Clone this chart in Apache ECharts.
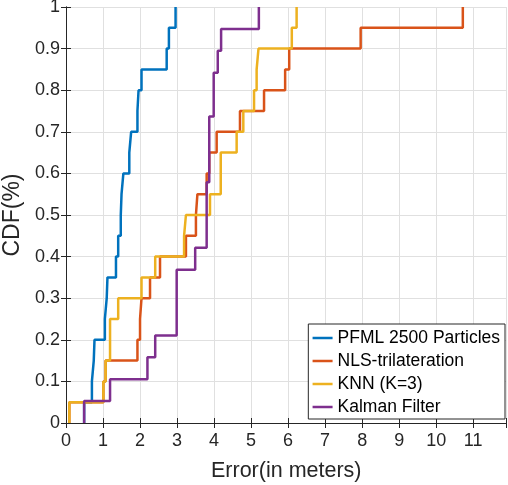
<!DOCTYPE html>
<html>
<head>
<meta charset="utf-8">
<script src="https://cdn.jsdelivr.net/npm/echarts@6/dist/echarts.min.js"></script>
<style>
  html, body { margin: 0; padding: 0; background: #fff; }
  #chart { width: 508px; height: 485px; }
</style>
</head>
<body>
<div id="chart"></div>
<script>
// error samples (metres) per method
var names = ['PFML 2500 Particles', 'NLS-trilateration', 'KNN (K=3)', 'Kalman Filter'];
var colors = ['#0072BD', '#D95319', '#EDB120', '#7E2F8E'];

var pfml = [0.49, 0.70, 0.75, 0.77, 1.05, 1.10, 1.12, 1.35, 1.41, 1.48,
    1.50, 1.55, 1.71, 1.76, 1.93, 1.96, 2.04, 2.72, 2.78, 2.96];
var nls = [0.09, 1.01, 1.07, 1.93, 2.00, 2.04, 2.27, 2.54, 3.24, 3.51,
    3.55, 3.80, 3.87, 4.07, 4.70, 5.35, 5.92, 6.03, 7.96, 10.72];
var knn = [0.09, 1.01, 1.07, 1.19, 1.19, 1.41, 2.04, 2.41, 3.19, 3.24,
    3.89, 4.18, 4.18, 4.61, 4.79, 5.08, 5.15, 5.20, 6.10, 6.23];
var kalman = [0.49, 1.19, 2.20, 2.41, 2.99, 2.99, 2.99, 3.49, 3.80, 3.80,
    3.80, 3.87, 3.87, 3.87, 3.99, 3.99, 4.10, 4.19, 5.21];

var xTicks = [0, 1, 2, 3, 4, 5, 6, 7, 8, 9, 10, 11];

// empirical cdf points, drawn with step:'end'
function cdf(samples) {
    var s = samples.slice().sort(function (a, b) { return a - b; });
    var n = s.length;
    var pts = [[s[0], 0]];
    for (var i = 0; i < n; i++) {
        pts.push([s[i], (i + 1) / n]);
    }
    return pts;
}

var axisColor = '#262626';
var font = 'Liberation Sans, Arial, sans-serif';

var myChart = echarts.init(document.getElementById('chart'));

var series = [pfml, nls, knn, kalman].map(function (d, i) {
    return {
        name: names[i],
        type: 'line',
        step: 'end',
        symbol: 'none',
        animation: false,
        data: cdf(d),
        lineStyle: { color: colors[i], width: 2.5 },
        itemStyle: { color: colors[i] }
    };
});

var option = {
    animation: false,
    grid: { left: 66, right: 1.5, top: 7, bottom: 62, outerBoundsMode: 'none', containLabel: false },
    legend: {
        orient: 'vertical',
        right: 3,
        bottom: 66,
        padding: [4, 5, 2, 3],
        itemWidth: 20,
        itemHeight: 14,
        itemGap: 3,
        backgroundColor: '#fff',
        borderColor: axisColor,
        borderWidth: 1,
        itemStyle: { opacity: 0 },
        lineStyle: { width: 2.5 },
        textStyle: { fontFamily: font, fontSize: 17.5, color: '#000', lineHeight: 20 },
        data: names
    },
    xAxis: [{
        type: 'value',
        min: 0,
        max: 11.9,
        interval: 1,
        name: 'Error(in meters)',
        nameLocation: 'middle',
        nameGap: 37,
        nameTextStyle: { fontFamily: font, fontSize: 21.5, color: axisColor },
        axisLine: { lineStyle: { color: axisColor, width: 1 } },
        axisTick: { inside: true, length: 5, lineStyle: { color: axisColor } },
        axisLabel: {
            fontFamily: font, fontSize: 18, color: axisColor, margin: 9,
            formatter: function (v) { return xTicks.indexOf(v) >= 0 ? String(v) : ''; }
        },
        splitLine: { show: true, lineStyle: { color: '#e0e0e0', width: 1 } }
    }, {
        type: 'value',
        position: 'top',
        min: 0,
        max: 11.9,
        interval: 1,
        axisLine: { lineStyle: { color: axisColor, width: 1 } },
        axisTick: { inside: true, length: 5, lineStyle: { color: axisColor } },
        axisLabel: { show: false },
        splitLine: { show: false }
    }],
    yAxis: [{
        type: 'value',
        min: 0,
        max: 1,
        interval: 0.1,
        name: 'CDF(%)',
        nameLocation: 'middle',
        nameGap: 40,
        nameTextStyle: { fontFamily: font, fontSize: 23, color: axisColor },
        axisLine: { show: true, lineStyle: { color: axisColor, width: 1 } },
        axisTick: { show: true, inside: true, length: 5, lineStyle: { color: axisColor } },
        axisLabel: { fontFamily: font, fontSize: 18, color: axisColor, margin: 6 },
        splitLine: { show: true, lineStyle: { color: '#e0e0e0', width: 1 } }
    }, {
        type: 'value',
        position: 'right',
        min: 0,
        max: 1,
        interval: 0.1,
        axisLine: { show: true, lineStyle: { color: axisColor, width: 1 } },
        axisTick: { show: true, inside: true, length: 5, lineStyle: { color: axisColor } },
        axisLabel: { show: false },
        splitLine: { show: false }
    }],
    series: series
};

myChart.setOption(option);
</script>
</body>
</html>
